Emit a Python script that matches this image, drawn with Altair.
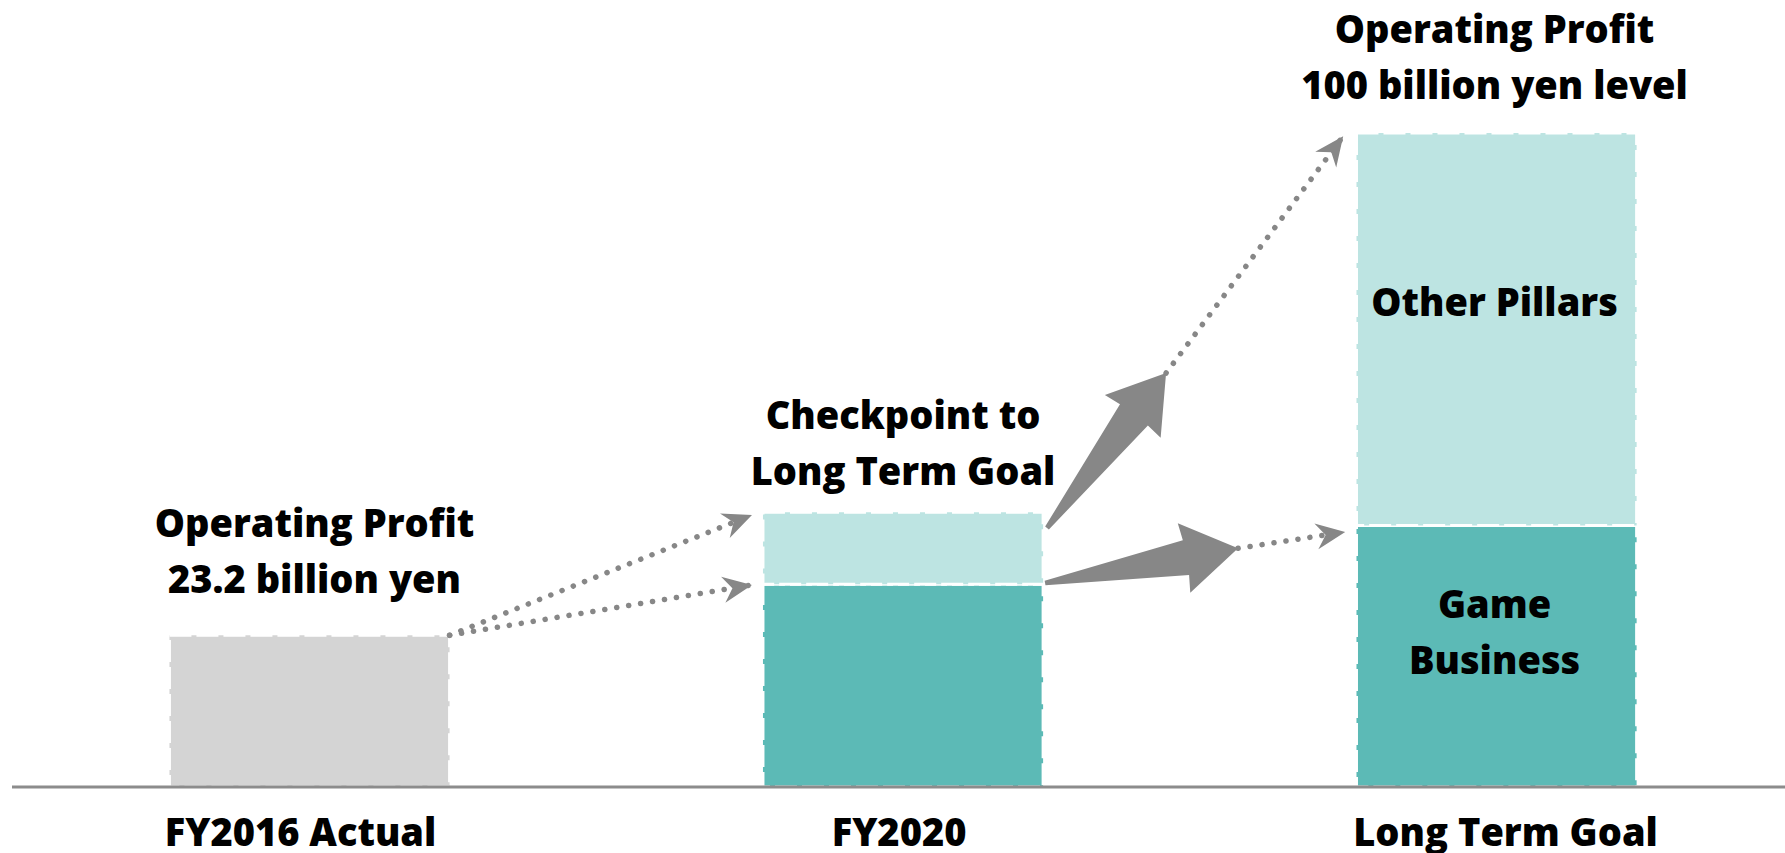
import math
import altair as alt
import pandas as pd

# ---------------- data ----------------
categories = ["FY2016 Actual", "FY2020", "Long Term Goal"]
category_pos = [0, 1, 2]

seg_category = ["FY2016 Actual", "FY2020", "FY2020", "Long Term Goal", "Long Term Goal"]
seg_name = ["Actual", "Game Business", "Other Pillars", "Game Business", "Other Pillars"]
seg_value = [23.2, 31, 11, 40, 60]

top_labels = ["Operating Profit\n23.2 billion yen",
              "Checkpoint to\nLong Term Goal",
              "Operating Profit\n100 billion yen level"]

inner_labels = ["Other Pillars", "Game\nBusiness"]
inner_segments = ["Other Pillars", "Game Business"]

# dotted connector arrows (start -> tip), data units
dot_x0 = [0.236, 0.236, 1.4432, 1.5645]
dot_y0 = [23.2, 23.2, 63.3, 36.5]
dot_x1 = [0.7455, 0.7455, 1.7416, 1.745]
dot_y1 = [41.6, 30.9, 99.5, 39.0]

# big solid arrows (tail -> tip), data units
big_x0 = [1.2426, 1.2393]
big_y0 = [39.6, 31.2]
big_x1 = [1.4432, 1.5645]
big_y1 = [63.3, 36.5]

# ---------------- layout / style ----------------
W, H = 1785, 853
X_DOMAIN = [-0.5215, 2.486]
Y_DOMAIN = [-10.09, 120.34]
PX_X = W / (X_DOMAIN[1] - X_DOMAIN[0])
PX_Y = H / (Y_DOMAIN[1] - Y_DOMAIN[0])
HALF = 0.236
FONT = "Open Sans"
FW = 800
FS = 38
LH = 56
GRAY_ARROW = "#878787"

xs = alt.Scale(domain=X_DOMAIN, nice=False, zero=False)
ys = alt.Scale(domain=Y_DOMAIN, nice=False, zero=False)

pos_of = dict(zip(categories, category_pos))

# bars table
rows = []
cum = {}
for c, n, v in zip(seg_category, seg_name, seg_value):
    base = cum.get(c, 0)
    p = pos_of[c]
    rows.append(dict(cat=c, name=n, x0=p - HALF, x1=p + HALF, y0=base, y1=base + v,
                     mid=base + v / 2))
    cum[c] = base + v
bars_df = pd.DataFrame(rows)

bars = alt.Chart(bars_df).mark_rect(
    stroke="white", strokeWidth=3, strokeDash=[22, 5]
).encode(
    x=alt.X("x0:Q", scale=xs, axis=None),
    x2="x1:Q",
    y=alt.Y("y0:Q", scale=ys, axis=None),
    y2="y1:Q",
    color=alt.Color("name:N", legend=None, scale=alt.Scale(
        domain=["Actual", "Game Business", "Other Pillars"],
        range=["#d4d4d4", "#5cbab6", "#bde4e2"])),
)

baseline = alt.Chart(pd.DataFrame({"v": [0]})).mark_rule(
    color="#8c8c8c", strokeWidth=3
).encode(
    x=alt.value(12), x2=alt.value(W),
    y=alt.Y("v:Q", scale=ys, axis=None),
)

def ang(x0, y0, x1, y1):
    return math.degrees(math.atan2(-(y1 - y0) * PX_Y, (x1 - x0) * PX_X)) % 360

dot_df = pd.DataFrame(dict(x0=dot_x0, y0=dot_y0, x1=dot_x1, y1=dot_y1))
dot_df["angle"] = [ang(a, b, c, d) for a, b, c, d in zip(dot_x0, dot_y0, dot_x1, dot_y1)]

dots = alt.Chart(dot_df).mark_rule(
    color=GRAY_ARROW, strokeWidth=5.5, strokeDash=[0.1, 12], strokeCap="round"
).encode(
    x=alt.X("x0:Q", scale=xs, axis=None), x2="x1:Q",
    y=alt.Y("y0:Q", scale=ys, axis=None), y2="y1:Q",
)

STEALTH = "M0,0 L-1,-0.45 L-0.68,0 L-1,0.45 Z"
heads = alt.Chart(dot_df).mark_point(
    shape=STEALTH, filled=True, color=GRAY_ARROW, opacity=1, size=3400, strokeWidth=0
).encode(
    x=alt.X("x1:Q", scale=xs, axis=None),
    y=alt.Y("y1:Q", scale=ys, axis=None),
    angle=alt.Angle("angle:Q", scale=None),
)

big_df = pd.DataFrame(dict(x0=big_x0, y0=big_y0, x1=big_x1, y1=big_y1))
big_df["angle"] = [ang(a, b, c, d) for a, b, c, d in zip(big_x0, big_y0, big_x1, big_y1)]
big_df["size"] = [(2 * math.hypot((c - a) * PX_X, (d - b) * PX_Y)) ** 2
                  for a, b, c, d in zip(big_x0, big_y0, big_x1, big_y1)]

BIG = "M0,-0.012 L0.73,-0.09 L0.72,-0.18 L1,0 L0.72,0.18 L0.73,0.09 L0,0.012 Z"
big = alt.Chart(big_df).mark_point(
    shape=BIG, filled=True, color=GRAY_ARROW, opacity=1, strokeWidth=0
).encode(
    x=alt.X("x0:Q", scale=xs, axis=None),
    y=alt.Y("y0:Q", scale=ys, axis=None),
    angle=alt.Angle("angle:Q", scale=None),
    size=alt.Size("size:Q", scale=None),
)

def text_layer(x, y, t, dx, dy):
    df = pd.DataFrame({"x": [x], "y": [y], "t": [t]})
    return alt.Chart(df).mark_text(
        font=FONT, fontWeight=FW, fontSize=FS, lineBreak="\n", lineHeight=LH,
        baseline="middle", align="center", dx=dx, dy=dy, color="black"
    ).encode(
        x=alt.X("x:Q", scale=xs, axis=None),
        y=alt.Y("y:Q", scale=ys, axis=None),
        text="t:N",
    )

totals = [cum[c] for c in categories]
text_layers = []
for i, (dx, dy) in enumerate([(5, -109), (0, -94), (-2, -101)]):
    text_layers.append(text_layer(category_pos[i], totals[i], top_labels[i], dx, dy))

lt = bars_df[bars_df.cat == "Long Term Goal"].set_index("name")
for lab, seg, dy in zip(inner_labels, inner_segments, [-24, -49]):
    text_layers.append(text_layer(pos_of["Long Term Goal"], lt.loc[seg, "mid"], lab, -2, dy))

for i, dx in enumerate([-9, -4, 9]):
    text_layers.append(text_layer(category_pos[i], 0, categories[i], dx, 48))

chart = alt.layer(
    bars, baseline, dots, heads, big, *text_layers
).properties(
    width=W, height=H, padding=0,
    autosize=alt.AutoSizeParams(type="none"),
    background="white",
).configure_view(stroke=None)

chart.save("out.html", embed_options={"renderer": "svg", "actions": False})
